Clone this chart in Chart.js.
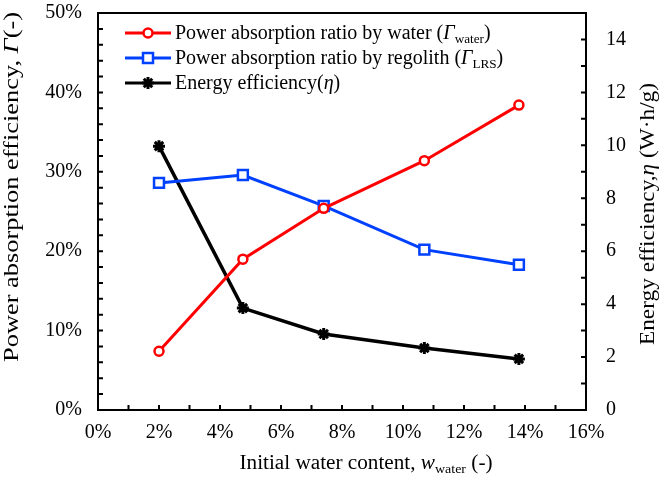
<!DOCTYPE html>
<html>
<head>
<meta charset="utf-8">
<script src="https://cdn.jsdelivr.net/npm/chart.js@4/dist/chart.umd.min.js"></script>
<style>
  html, body { margin: 0; padding: 0; background: #fff; }
  #wrap { width: 660px; height: 480px; position: relative; }
</style>
</head>
<body>
<div id="wrap"><canvas id="chart"></canvas></div>
<script>
/* ---- data ---- */
const waterContent = [2.0, 4.75, 7.4, 10.7, 13.8];      // %
const gammaWater   = [7.4, 19.0, 25.4, 31.4, 38.4];     // %
const gammaLRS     = [28.6, 29.6, 25.7, 20.2, 18.3];    // %
const energyEff    = [9.97, 3.85, 2.87, 2.34, 1.93];    // W·h/g

const xTicks  = [0, 2, 4, 6, 8, 10, 12, 14, 16];
const yTicks  = [0, 10, 20, 30, 40, 50];
const y2Ticks = [0, 2, 4, 6, 8, 10, 12, 14];

const FONT = '"Liberation Serif", "Times New Roman", serif';
const RED = '#ff0000';
const BLUE = '#0040ff';
const BLACK = '#000000';

const toPoints = (ys) => waterContent.map((x, i) => ({ x, y: ys[i] }));

/* ---- rich text helpers (italics / subscripts) ---- */
function richWidth(ctx, parts, size) {
  let w = 0;
  parts.forEach((p) => {
    const s = p.sub ? size * 0.66 : size;
    ctx.font = `${p.italic ? 'italic ' : ''}${s}px ${FONT}`;
    w += ctx.measureText(p.t).width;
  });
  return w;
}

function drawRich(ctx, parts, x, y, size) {
  let cx = x;
  parts.forEach((p) => {
    const s = p.sub ? size * 0.66 : size;
    ctx.font = `${p.italic ? 'italic ' : ''}${s}px ${FONT}`;
    ctx.fillText(p.t, cx, p.sub ? y + size * 0.22 : y);
    cx += ctx.measureText(p.t).width;
  });
}

// text centred on (cx, cy) along its own direction, stretched to a given length
function drawTitle(ctx, parts, cx, baseY, size, rotate, length) {
  const w = richWidth(ctx, parts, size);
  ctx.save();
  ctx.translate(cx, baseY);
  if (rotate) ctx.rotate(-Math.PI / 2);
  ctx.scale(length / w, 1);
  drawRich(ctx, parts, -w / 2, 0, size);
  ctx.restore();
}

function drawMarker(ctx, style, x, y, color) {
  ctx.save();
  ctx.strokeStyle = color;
  ctx.fillStyle = '#fff';
  ctx.lineWidth = 2.5;
  ctx.beginPath();
  if (style === 'circle') {
    ctx.arc(x, y, 4.5, 0, Math.PI * 2);
    ctx.fill();
    ctx.stroke();
  } else if (style === 'rect') {
    ctx.rect(x - 5, y - 5, 10, 10);
    ctx.fill();
    ctx.stroke();
  } else {
    const r = 6;
    ctx.lineWidth = 3;
    ctx.moveTo(x - r, y); ctx.lineTo(x + r, y);
    ctx.moveTo(x, y - r); ctx.lineTo(x, y + r);
    const d = r * Math.SQRT1_2;
    ctx.moveTo(x - d, y - d); ctx.lineTo(x + d, y + d);
    ctx.moveTo(x - d, y + d); ctx.lineTo(x + d, y - d);
    ctx.stroke();
  }
  ctx.restore();
}

const legendItems = [
  { color: RED, marker: 'circle', parts: [{ t: 'Power absorption ratio by water (' }, { t: 'Γ', italic: true }, { t: 'water', sub: true }, { t: ')' }] },
  { color: BLUE, marker: 'rect', parts: [{ t: 'Power absorption ratio by regolith (' }, { t: 'Γ', italic: true }, { t: 'LRS', sub: true }, { t: ')' }] },
  { color: BLACK, marker: 'star', parts: [{ t: 'Energy efficiency(' }, { t: 'η', italic: true }, { t: ')' }] },
];

/* ---- frame, inward ticks, titles, legend ---- */
const decorPlugin = {
  id: 'decor',
  afterDraw(chart) {
    const { ctx, chartArea: a, scales } = chart;
    ctx.save();
    ctx.strokeStyle = '#000';
    ctx.lineWidth = 2;
    ctx.strokeRect(a.left, a.top, a.right - a.left, a.bottom - a.top);

    // inward minor ticks
    ctx.beginPath();
    for (let v = 1; v < 16; v++) {
      const px = scales.x.getPixelForValue(v);
      ctx.moveTo(px, a.bottom); ctx.lineTo(px, a.bottom - 5);
    }
    for (let v = 2; v < 50; v += 2) {
      const py = scales.y.getPixelForValue(v);
      ctx.moveTo(a.left, py); ctx.lineTo(a.left + 5, py);
    }
    for (let v = 1; v < 15; v++) {
      const py = scales.y2.getPixelForValue(v);
      ctx.moveTo(a.right, py); ctx.lineTo(a.right - 5, py);
    }
    ctx.stroke();

    ctx.fillStyle = '#000';
    ctx.textBaseline = 'alphabetic';
    ctx.textAlign = 'left';

    drawTitle(ctx, [{ t: 'Initial water content, ' }, { t: 'w', italic: true }, { t: 'water', sub: true }, { t: ' (-)' }],
      366, 469, 20, false, 253);
    drawTitle(ctx, [{ t: 'Power absorption efficiency, ' }, { t: 'Γ', italic: true }, { t: '(-)' }],
      18, 187, 20, true, 350);
    drawTitle(ctx, [{ t: 'Energy efficiency,' }, { t: 'η', italic: true }, { t: ' (W·h/g)' }],
      654, 214, 20, true, 262);

    // legend
    legendItems.forEach((item, i) => {
      const cy = 33 + i * 25;
      ctx.strokeStyle = item.color;
      ctx.lineWidth = 3;
      ctx.beginPath();
      ctx.moveTo(125, cy); ctx.lineTo(171, cy);
      ctx.stroke();
      drawMarker(ctx, item.marker, 148, cy, item.color);
      ctx.fillStyle = '#000';
      drawRich(ctx, item.parts, 175, cy + 6, 20);
    });
    ctx.restore();
  },
};

const tickFont = { family: FONT, size: 20 };
const noPad = (s) => { s.paddingTop = 0; s.paddingBottom = 0; s.paddingLeft = 0; s.paddingRight = 0; };

new Chart(document.getElementById('chart'), {
  type: 'scatter',
  data: {
    datasets: [
      {
        label: 'Power absorption ratio by water',
        data: toPoints(gammaWater),
        yAxisID: 'y',
        showLine: true,
        borderColor: RED,
        borderWidth: 3,
        pointStyle: 'circle',
        pointRadius: 4.5,
        pointBorderWidth: 2.5,
        pointBackgroundColor: '#fff',
        pointBorderColor: RED,
      },
      {
        label: 'Power absorption ratio by regolith',
        data: toPoints(gammaLRS),
        yAxisID: 'y',
        showLine: true,
        borderColor: BLUE,
        borderWidth: 3,
        pointStyle: 'rect',
        pointRadius: 7,
        pointBorderWidth: 2.5,
        pointBackgroundColor: '#fff',
        pointBorderColor: BLUE,
      },
      {
        label: 'Energy efficiency',
        data: toPoints(energyEff),
        yAxisID: 'y2',
        showLine: true,
        borderColor: BLACK,
        borderWidth: 3.5,
        pointStyle: 'star',
        pointRadius: 6,
        pointBorderWidth: 3,
        pointBorderColor: BLACK,
      },
    ],
  },
  options: {
    responsive: true,
    maintainAspectRatio: false,
    animation: false,
    layout: { padding: { top: 13, left: 0, right: 0, bottom: 0 } },
    plugins: { legend: { display: false }, tooltip: { enabled: false } },
    scales: {
      x: {
        type: 'linear',
        min: 0,
        max: 16,
        afterBuildTicks: (s) => { s.ticks = xTicks.map((value) => ({ value })); },
        afterFit: (s) => { s.height = 70; noPad(s); },
        grid: { display: false },
        border: { display: false },
        ticks: { color: '#000', font: tickFont, padding: 3, maxRotation: 0, callback: (v) => `${v}%` },
      },
      y: {
        position: 'left',
        min: 0,
        max: 50,
        afterBuildTicks: (s) => { s.ticks = yTicks.map((value) => ({ value })); },
        afterFit: (s) => { s.width = 98; noPad(s); },
        grid: { display: false },
        border: { display: false },
        ticks: { color: '#000', font: tickFont, padding: 8, callback: (v) => `${v}%` },
      },
      y2: {
        position: 'right',
        min: 0,
        max: 15,
        afterBuildTicks: (s) => { s.ticks = y2Ticks.map((value) => ({ value })); },
        afterFit: (s) => { s.width = 74; noPad(s); },
        grid: { display: false },
        border: { display: false },
        ticks: { color: '#000', font: tickFont, padding: 12, callback: (v) => `${v}` },
      },
    },
  },
  plugins: [decorPlugin],
});
</script>
</body>
</html>
